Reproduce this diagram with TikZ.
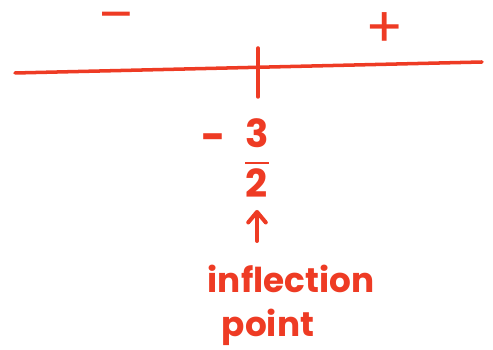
\documentclass[tikz,border=0pt]{standalone}
\usepackage{amsmath}
\usepackage{fontspec}
\setmainfont{Poppins}
\usepackage{tikz}
\usetikzlibrary{arrows.meta,positioning,calc}
\definecolor{markred}{HTML}{EE3B24}

\begin{document}
\begin{tikzpicture}[x=0.02cm, y=-0.02cm]
\useasboundingbox (0,0) rectangle (493,350);
\coordinate (left) at (15,73);
\coordinate (right) at (482,62);
\draw[markred, line width=2pt, line cap=round] (left) -- (right);
\coordinate (tickTop) at (258,48);
\coordinate (tickBot) at (258,97);
\draw[markred, line width=2pt, line cap=round] (tickTop) -- (tickBot);
\node[markred, inner sep=0, font=\fontsize{30}{30}\selectfont] (neg) at (116,23) {--};
\node[markred, inner sep=0, font=\fontsize{32}{32}\selectfont] (pos) at (385,30) {+};
\node[markred, inner sep=0, font=\fontsize{24}{24}\bfseries] (minus) at (214,143) {-};
\node[markred, inner sep=1pt, font=\fontsize{22}{22}\selectfont] (frac) at (257,158) {$\dfrac{\text{\bfseries 3}}{\text{\bfseries 2}}$};
\node[markred, align=left, font=\fontsize{19.5}{25}\bfseries] (infl) at (291,305) {inflection\\\hspace*{8pt}point};
\coordinate (tail) at ([yshift=10pt]infl.north -| frac.south);
\draw[markred, line width=2.3pt, line cap=round, -{Straight Barb[length=6pt, width=10pt, round]}] (tail) -- ([yshift=-6pt]frac.south);
\end{tikzpicture}
\end{document}
